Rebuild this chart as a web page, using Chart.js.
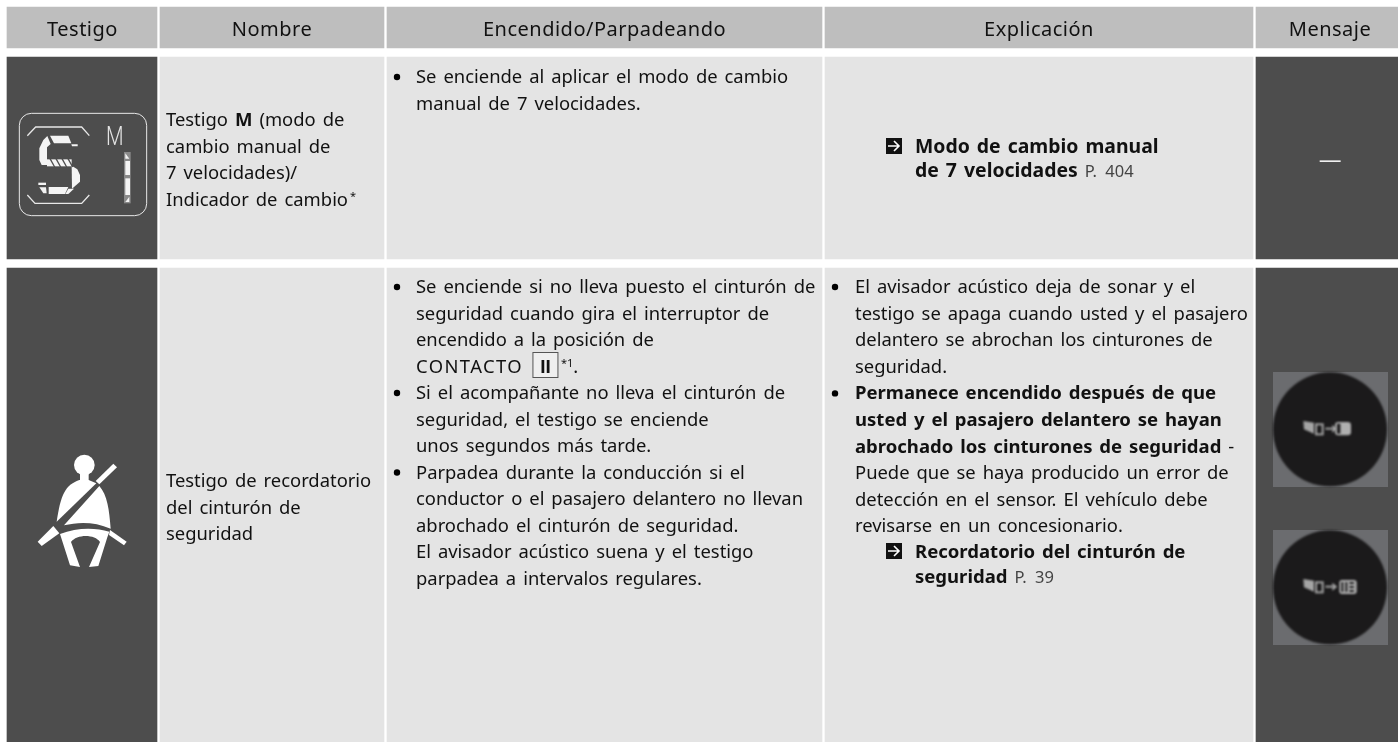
<!DOCTYPE html>
<html lang="es">
<head>
<meta charset="utf-8">
<title>Testigos</title>
<script src="https://cdn.jsdelivr.net/npm/chart.js@4"></script>
<style>
  html, body { margin: 0; padding: 0; background: #fff; overflow: hidden; }
  canvas { display: block; }
</style>
</head>
<body>
<canvas id="myChart" width="1398" height="742"></canvas>
<script>
// table content, **x** = bold, {x} = page ref, ^x^ = superscript, [x] = boxed, ~x~ = wide caps
const columnas = ['Testigo', 'Nombre', 'Encendido/Parpadeando', 'Explicación', 'Mensaje'];
const filas = ['Encabezado', 'Modo manual', 'Cinturón'];
const nombreModo = ['Testigo **M** (modo de', 'cambio manual de', '7 velocidades)/', 'Indicador de cambio^*^'];
const nombreCinturon = ['Testigo de recordatorio', 'del cinturón de', 'seguridad'];
const encendidoModo = ['Se enciende al aplicar el modo de cambio', 'manual de 7 velocidades.'];
const encendidoCinturon = [
    'Se enciende si no lleva puesto el cinturón de',
    'seguridad cuando gira el interruptor de',
    'encendido a la posición de',
    '~CONTACTO~ [II]^*1^.',
    'Si el acompañante no lleva el cinturón de',
    'seguridad, el testigo se enciende',
    'unos segundos más tarde.',
    'Parpadea durante la conducción si el',
    'conductor o el pasajero delantero no llevan',
    'abrochado el cinturón de seguridad.',
    'El avisador acústico suena y el testigo',
    'parpadea a intervalos regulares.'
];
const encendidoVinetas = [0, 4, 7];
const explicacionModo = ['**Modo de cambio manual**', '**de 7 velocidades** {P. 404}'];
const explicacionCinturon = [
    'El avisador acústico deja de sonar y el',
    'testigo se apaga cuando usted y el pasajero',
    'delantero se abrochan los cinturones de',
    'seguridad.',
    '**Permanece encendido después de que**',
    '**usted y el pasajero delantero se hayan**',
    '**abrochado los cinturones de seguridad** -',
    'Puede que se haya producido un error de',
    'detección en el sensor. El vehículo debe',
    'revisarse en un concesionario.'
];
const explicacionVinetas = [0, 4];
const explicacionRef = ['**Recordatorio del cinturón de**', '**seguridad** {P. 39}'];
const mensajeModo = '—';

// layout of the grid on the chart's pixel-sized scales
const colLeft = [7, 160, 387, 825, 1256];
const colRight = [157, 384, 822, 1253, 1398];
const headerX = [82.5, 272, 604.5, 1039, 1330];
const rowTop = [7, 57, 268];
const rowBottom = [48, 259, 742];

const gris = '#bebebe';
const claro = '#e4e4e4';
const oscuro = '#4d4d4d';
const FONT = '"Noto Sans"';
const SIZE = 18.4;
const BOLD_SIZE = 18.55;
const WORD = '2.2px';

var cellColor = function(col, row) {
    if (row === 0) return gris;
    return (col === 0 || col === 4) ? oscuro : claro;
};

var setFont = function(ctx, size, bold) {
    ctx.font = (bold ? '700 ' : '400 ') + size + 'px ' + FONT;
};

// draws one marked-up line
var drawRuns = function(ctx, str, x, y, boldSize) {
    var parts = str.split(/(\*\*.*?\*\*|\{.*?\}|\^.*?\^|\[.*?\]|~.*?~)/).filter(p => p !== '');
    parts.forEach(p => {
        ctx.fillStyle = '#111';
        var t;
        if (p.startsWith('**')) {
            t = p.slice(2, -2);
            setFont(ctx, boldSize, true);
            ctx.wordSpacing = '2px';
            ctx.fillText(t, x, y);
            x += ctx.measureText(t).width;
            ctx.wordSpacing = WORD;
        } else if (p.startsWith('{')) {
            t = p.slice(1, -1);
            setFont(ctx, 16.5, false);
            ctx.fillStyle = '#444';
            ctx.wordSpacing = '4px';
            ctx.fillText(t, x, y);
            x += ctx.measureText(t).width;
            ctx.wordSpacing = WORD;
        } else if (p.startsWith('^')) {
            t = p.slice(1, -1);
            setFont(ctx, SIZE * 0.6, false);
            ctx.fillText(t, x + 2, y - 6);
            x += ctx.measureText(t).width + 2;
        } else if (p.startsWith('~')) {
            t = p.slice(1, -1);
            setFont(ctx, SIZE, false);
            ctx.letterSpacing = '1.4px';
            ctx.fillText(t, x, y);
            x += ctx.measureText(t).width;
            ctx.letterSpacing = '0px';
        } else if (p.startsWith('[')) {
            t = p.slice(1, -1);
            ctx.strokeStyle = '#555';
            ctx.lineWidth = 1;
            ctx.fillStyle = '#efefef';
            ctx.fillRect(x + 3, y - 20, 25, 25);
            ctx.strokeRect(x + 3, y - 20, 25, 25);
            ctx.fillStyle = '#111';
            ctx.font = '700 19px "Liberation Sans"';
            ctx.textAlign = 'center';
            ctx.fillText(t, x + 15.5, y);
            ctx.textAlign = 'left';
            x += 29;
        } else {
            setFont(ctx, SIZE, false);
            ctx.fillText(p, x, y);
            x += ctx.measureText(p).width;
        }
    });
};

var drawBlock = function(ctx, lines, x, y, step, bullets, bulletX, boldSize) {
    lines.forEach((line, i) => {
        var by = y + i * step;
        drawRuns(ctx, line, x, by, boldSize || BOLD_SIZE);
        if (bullets && bullets.includes(i)) {
            ctx.fillStyle = '#000';
            ctx.beginPath();
            ctx.arc(bulletX, by - 6, 3.2, 0, Math.PI * 2);
            ctx.fill();
        }
    });
};

var poly = function(ctx, pts) {
    ctx.beginPath();
    pts.forEach((p, i) => i ? ctx.lineTo(p[0], p[1]) : ctx.moveTo(p[0], p[1]));
    ctx.closePath();
    ctx.fill();
};

var drawArrowBox = function(ctx, x, y) {
    ctx.fillStyle = '#111';
    ctx.fillRect(x, y, 16, 16);
    ctx.strokeStyle = '#fff';
    ctx.lineWidth = 1.6;
    ctx.beginPath();
    ctx.moveTo(x + 2, y + 8);
    ctx.lineTo(x + 13, y + 8);
    ctx.moveTo(x + 8, y + 3);
    ctx.lineTo(x + 13, y + 8);
    ctx.lineTo(x + 8, y + 13);
    ctx.stroke();
};

// S1 display icon, traced at 3x
var drawGearIcon = function(ctx) {
    ctx.save();
    ctx.translate(0, 50);
    ctx.scale(1 / 3, 1 / 3);
    ctx.strokeStyle = '#e8e8e8';
    ctx.fillStyle = '#f4f4f4';
    ctx.lineWidth = 3;
    ctx.beginPath();
    ctx.roundRect(58, 190, 382, 307, 36);
    ctx.stroke();
    ctx.lineWidth = 4;
    ctx.beginPath();
    ctx.moveTo(82, 257); ctx.lineTo(107, 231); ctx.lineTo(245, 231); ctx.lineTo(268, 257);
    ctx.moveTo(82, 435); ctx.lineTo(105, 460); ctx.lineTo(245, 460); ctx.lineTo(268, 435);
    ctx.stroke();
    poly(ctx, [[118, 295], [130, 270], [142, 258], [152, 282], [141, 292], [141, 345], [125, 345], [118, 330]]);
    poly(ctx, [[150, 257], [205, 257], [214, 280], [162, 280]]);
    poly(ctx, [[214, 283], [233, 283], [233, 289], [216, 289]]);
    poly(ctx, [[215, 347], [232, 358], [240, 375], [240, 395], [216, 416]]);
    poly(ctx, [[146, 411], [205, 411], [195, 432], [146, 432]]);
    poly(ctx, [[115, 398], [138, 398], [138, 405], [115, 405]]);
    poly(ctx, [[118, 412], [138, 412], [140, 430], [130, 430]]);
    poly(ctx, [[205, 416], [222, 416], [205, 432], [196, 432]]);
    // hatched middle bar
    ctx.fillRect(141, 328, 74, 21);
    ctx.strokeStyle = oscuro;
    ctx.lineWidth = 4;
    [150, 168, 186, 204].forEach(x => {
        ctx.beginPath();
        ctx.moveTo(x, 326);
        ctx.lineTo(x + 14, 351);
        ctx.stroke();
    });
    // digit 1
    ctx.fillStyle = '#8a8a8a';
    ctx.fillRect(372, 306, 20, 154);
    ctx.fillStyle = '#f4f4f4';
    ctx.fillRect(376, 333, 14, 42);
    ctx.fillRect(376, 385, 14, 50);
    poly(ctx, [[376, 310], [388, 326], [376, 326]]);
    poly(ctx, [[388, 440], [388, 456], [376, 456]]);
    ctx.restore();
    ctx.save();
    ctx.translate(106, 145);
    ctx.scale(0.78, 1);
    ctx.fillStyle = '#e4e4e4';
    ctx.font = '300 26px Roboto';
    ctx.fillText('M', 0, 0);
    ctx.restore();
};

// belted person icon, traced at 3x
var drawBeltIcon = function(ctx) {
    ctx.save();
    ctx.translate(20, 420);
    ctx.scale(1 / 3, 1 / 3);
    ctx.fillStyle = '#fff';
    ctx.beginPath();
    ctx.arc(193, 135, 31, 0, Math.PI * 2);
    ctx.fill();
    ctx.fillRect(180, 160, 26, 26);
    // left of shoulder strap
    ctx.beginPath();
    ctx.moveTo(178, 180);
    ctx.bezierCurveTo(135, 195, 122, 225, 110, 305);
    ctx.lineTo(229, 190);
    ctx.lineTo(206, 180);
    ctx.closePath();
    ctx.fill();
    // right of shoulder strap
    ctx.beginPath();
    ctx.moveTo(238, 198);
    ctx.bezierCurveTo(262, 225, 268, 270, 272, 326);
    ctx.bezierCurveTo(225, 305, 175, 305, 132, 316);
    ctx.closePath();
    ctx.fill();
    poly(ctx, [[280, 131], [291, 142], [238, 193], [227, 183]]);
    poly(ctx, [[100, 318], [118, 340], [65, 378], [53, 365]]);
    poly(ctx, [[270, 330], [320, 365], [312, 376], [267, 345]]);
    // seat and legs
    ctx.beginPath();
    ctx.moveTo(120, 342);
    ctx.bezierCurveTo(170, 322, 225, 322, 268, 335);
    ctx.lineTo(262, 352);
    ctx.lineTo(235, 438);
    ctx.lineTo(207, 441);
    ctx.lineTo(240, 366);
    ctx.bezierCurveTo(225, 342, 170, 342, 153, 366);
    ctx.lineTo(180, 441);
    ctx.lineTo(150, 436);
    ctx.closePath();
    ctx.fill();
    ctx.restore();
};

// round message icon, traced at 3x
var drawMsgIcon = function(ctx, oy, second) {
    ctx.save();
    ctx.translate(1240, oy);
    ctx.scale(1 / 3, 1 / 3);
    ctx.fillStyle = '#6b6c6f';
    ctx.fillRect(99, 0, 345, 345);
    ctx.filter = 'blur(1px)';
    ctx.fillStyle = '#1b1a1b';
    ctx.beginPath();
    ctx.arc(270, 172, 171, 0, Math.PI * 2);
    ctx.fill();
    ctx.fillStyle = '#a4a4a4';
    poly(ctx, [[190, 147], [222, 152], [222, 185], [192, 172]]);
    ctx.strokeStyle = '#a4a4a4';
    ctx.lineWidth = 6;
    ctx.strokeRect(228, 157, 20, 30);
    ctx.beginPath();
    ctx.moveTo(256, 170);
    ctx.lineTo(280, 170);
    ctx.stroke();
    poly(ctx, [[277, 158], [292, 170], [277, 182]]);
    if (second) {
        ctx.fillStyle = '#b0b0b0';
        ctx.beginPath();
        ctx.roundRect(298, 150, 52, 42, 8);
        ctx.fill();
        ctx.fillStyle = '#1b1a1b';
        ctx.fillRect(304, 156, 6, 30);
        ctx.fillRect(316, 156, 6, 30);
        ctx.fillRect(328, 156, 14, 6);
        ctx.fillRect(328, 168, 14, 6);
        ctx.fillRect(328, 180, 14, 6);
    } else {
        ctx.fillStyle = '#b0b0b0';
        ctx.beginPath();
        ctx.roundRect(285, 150, 48, 40, 10);
        ctx.fill();
        ctx.fillStyle = '#1b1a1b';
        ctx.fillRect(291, 155, 10, 30);
    }
    ctx.restore();
};

const tablePlugin = {
    id: 'tablePlugin',
    afterDatasetsDraw: function(chart) {
        var ctx = chart.ctx;
        ctx.save();
        ctx.textBaseline = 'alphabetic';
        ctx.textAlign = 'center';
        ctx.fillStyle = '#111';
        setFont(ctx, 20, false);
        ctx.letterSpacing = '0.5px';
        columnas.forEach((c, i) => {
            ctx.fillText(c, headerX[i], 36);
        });
        ctx.letterSpacing = '0px';
        ctx.wordSpacing = WORD;
        ctx.textAlign = 'left';

        drawBlock(ctx, nombreModo, 166, 126, 26.6);
        drawBlock(ctx, nombreCinturon, 166, 487, 26.6);
        drawBlock(ctx, encendidoModo, 416, 83, 26.6, [0], 397);
        drawBlock(ctx, encendidoCinturon, 416, 293, 26.5, encendidoVinetas, 397);
        drawBlock(ctx, explicacionCinturon, 855, 293, 26.6, explicacionVinetas, 835);
        drawBlock(ctx, explicacionModo, 915, 153, 24, null, 0, 19.4);
        drawBlock(ctx, explicacionRef, 915, 558, 25);
        drawArrowBox(ctx, 886, 138);
        drawArrowBox(ctx, 886, 543);
        ctx.wordSpacing = '0px';

        ctx.textAlign = 'center';
        ctx.fillStyle = '#f0f0f0';
        ctx.font = '300 32px Roboto';
        ctx.fillText(mensajeModo, 1330, 173);
        ctx.textAlign = 'left';

        drawGearIcon(ctx);
        drawBeltIcon(ctx);
        drawMsgIcon(ctx, 372, false);
        drawMsgIcon(ctx, 530, true);
        ctx.restore();
    }
};

var myChart = new Chart(document.getElementById('myChart'), {
    type: 'bar',
    data: {
        datasets: columnas.map((c, col) => ({
            label: c,
            grouped: false,
            barThickness: colRight[col] - colLeft[col],
            backgroundColor: filas.map((f, row) => cellColor(col, row)),
            data: filas.map((f, row) => ({
                x: (colLeft[col] + colRight[col]) / 2,
                y: [rowTop[row], rowBottom[row]]
            }))
        }))
    },
    options: {
        responsive: false,
        animation: false,
        layout: { padding: 0 },
        scales: {
            x: { type: 'linear', offset: false, min: 0, max: 1398, display: false },
            y: { type: 'linear', min: 0, max: 742, reverse: true, display: false }
        },
        plugins: { legend: { display: false }, tooltip: { enabled: false } }
    },
    plugins: [tablePlugin]
});
</script>
</body>
</html>
